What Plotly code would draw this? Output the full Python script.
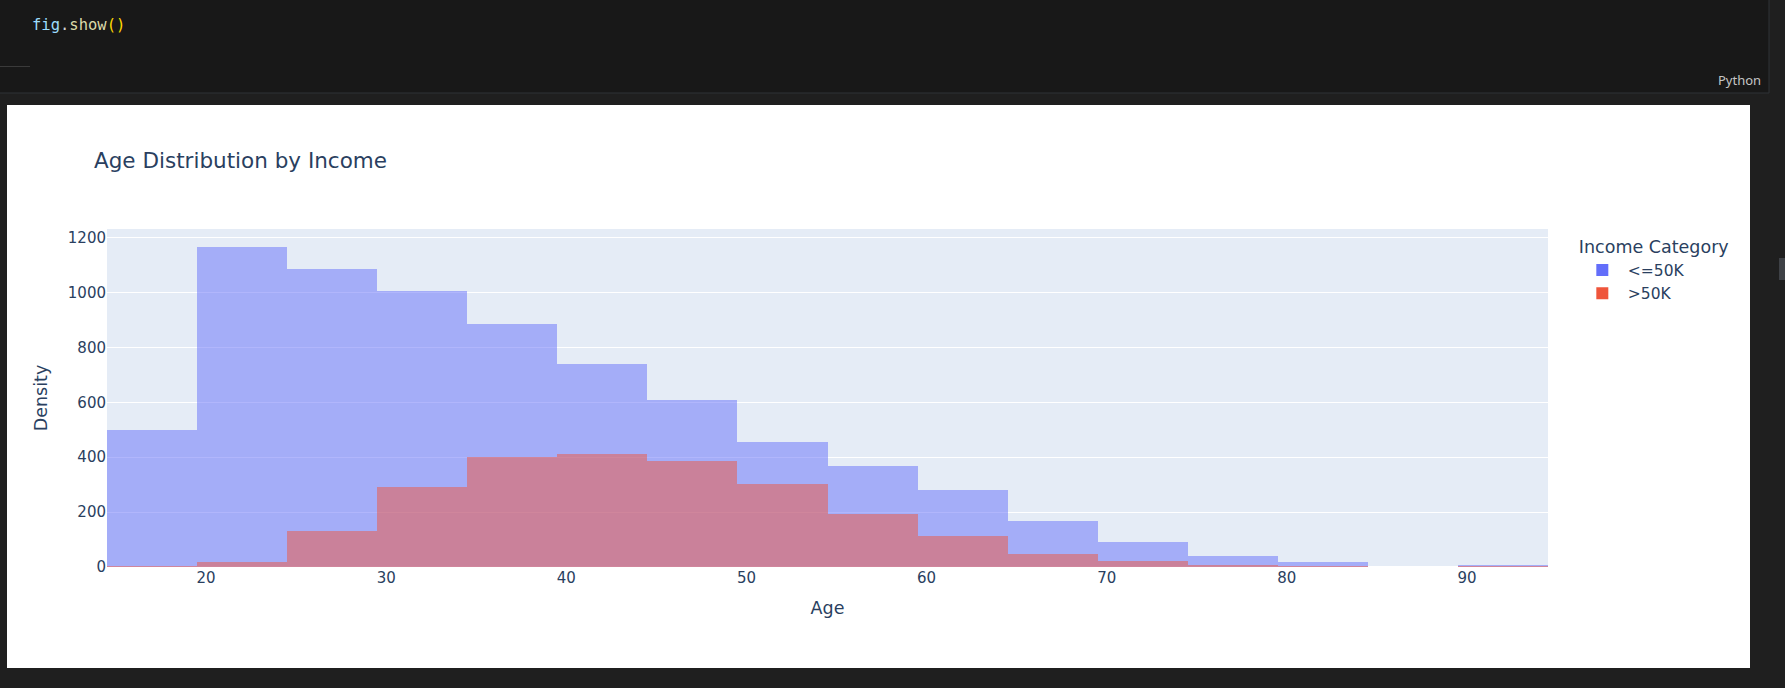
import plotly.graph_objects as go

# ---- data ----
bin_centers = [17, 22, 27, 32, 37, 42, 47, 52, 57, 62, 67, 72, 77, 82, 87, 92]
le50k_counts = [499, 1166, 1086, 1005, 885, 739, 608, 455, 367, 280, 167, 90, 39, 17, 0, 6]
gt50k_counts = [2, 17, 130, 291, 400, 411, 385, 301, 193, 112, 46, 21, 6, 2, 0, 1]
series_names = ["<=50K", ">50K"]
series_colors = ["#636efa", "#EF553B"]
x_tick_vals = [20, 30, 40, 50, 60, 70, 80, 90]
y_tick_vals = [0, 200, 400, 600, 800, 1000, 1200]

# ---- geometry (pixels of the 1785x688 page) ----
W, H = 1785, 688
L, R, T, B = 107, 237, 229, 121
PW, PH = W - L - R, H - T - B


def px(x):
    return (x - L) / PW


def py(y):
    return (H - B - y) / PH


FONT = "DejaVu Sans, Verdana, Arial"
INK = "#2a3f5f"

fig = go.Figure()
for name, vals, col in zip(series_names, [le50k_counts, gt50k_counts], series_colors):
    fig.add_trace(go.Bar(
        x=bin_centers, y=vals, width=5, name=name,
        marker=dict(color=col, opacity=0.5, line=dict(width=0)),
    ))

shapes = [
    # code cell area
    dict(type="rect", xref="paper", yref="paper", x0=px(-2), x1=px(1769), y0=py(93), y1=py(-2),
         fillcolor="#181818", line=dict(color="#2f3336", width=1), layer="below"),
    dict(type="line", xref="paper", yref="paper", x0=px(0), x1=px(30), y0=py(66.5), y1=py(66.5),
         line=dict(color="#3a3a3a", width=1), layer="below"),
    # white output area
    dict(type="rect", xref="paper", yref="paper", x0=px(7), x1=px(1750), y0=py(668), y1=py(105),
         fillcolor="white", line=dict(width=0), layer="below"),
    # plot area background
    dict(type="rect", xref="paper", yref="paper", x0=0, x1=1, y0=0, y1=1,
         fillcolor="#E5ECF6", line=dict(width=0), layer="below"),
    # scrollbar thumb
    dict(type="rect", xref="paper", yref="paper", x0=px(1779), x1=px(1785), y0=py(280), y1=py(258),
         fillcolor="#3e4146", line=dict(width=0), layer="below"),
]

annotations = [
    dict(xref="paper", yref="paper", x=px(30), y=py(25), xanchor="left", yanchor="middle",
         showarrow=False,
         text=("<span style='color:#9CDCFE'>fig</span><span style='color:#d4d4d4'>.</span>"
               "<span style='color:#DCDCAA'>show</span><span style='color:#FFD700'>()</span>"),
         font=dict(family="DejaVu Sans Mono, monospace", size=15.5)),
    dict(xref="paper", yref="paper", x=px(1763), y=py(80), xanchor="right", yanchor="middle",
         showarrow=False, text="Python", font=dict(family="Noto Sans, DejaVu Sans", size=13, color="#c5c5c5")),
]

fig.update_layout(
    width=W, height=H,
    margin=dict(l=L, r=R, t=T, b=B, autoexpand=False),
    paper_bgcolor="#1f1f1f",
    plot_bgcolor="rgba(0,0,0,0)",
    barmode="overlay",
    bargap=0,
    font=dict(family=FONT, size=15, color=INK),
    title=dict(text="Age Distribution by Income", xref="container", yref="container",
               x=94 / W, xanchor="left", y=1 - 160 / H, yanchor="middle",
               font=dict(family=FONT, size=21.5, color=INK)),
    xaxis=dict(title=dict(text="Age", font=dict(size=17.5)), range=[14.5, 94.5],
               tickvals=x_tick_vals, showgrid=False, zeroline=False, ticks="",
               tickfont=dict(size=15)),
    yaxis=dict(title=dict(text="Density", font=dict(size=17.5)), range=[0, 1231.7],
               tickvals=y_tick_vals, gridcolor="white", gridwidth=1.25, zeroline=True,
               zerolinecolor="white", zerolinewidth=2.5, ticks="", tickfont=dict(size=15)),
    legend=dict(title=dict(text="Income Category", font=dict(size=17.5)), bgcolor="rgba(0,0,0,0)",
                font=dict(size=15.5), x=1.02, y=0.995, xanchor="left", yanchor="top", tracegroupgap=0,
                itemwidth=41),
    shapes=shapes,
    annotations=annotations,
)

fig.write_html(
    "out.html",
    config={"displayModeBar": False},
    post_script="document.body.style.margin='0';document.body.style.background='#1f1f1f';",
)
